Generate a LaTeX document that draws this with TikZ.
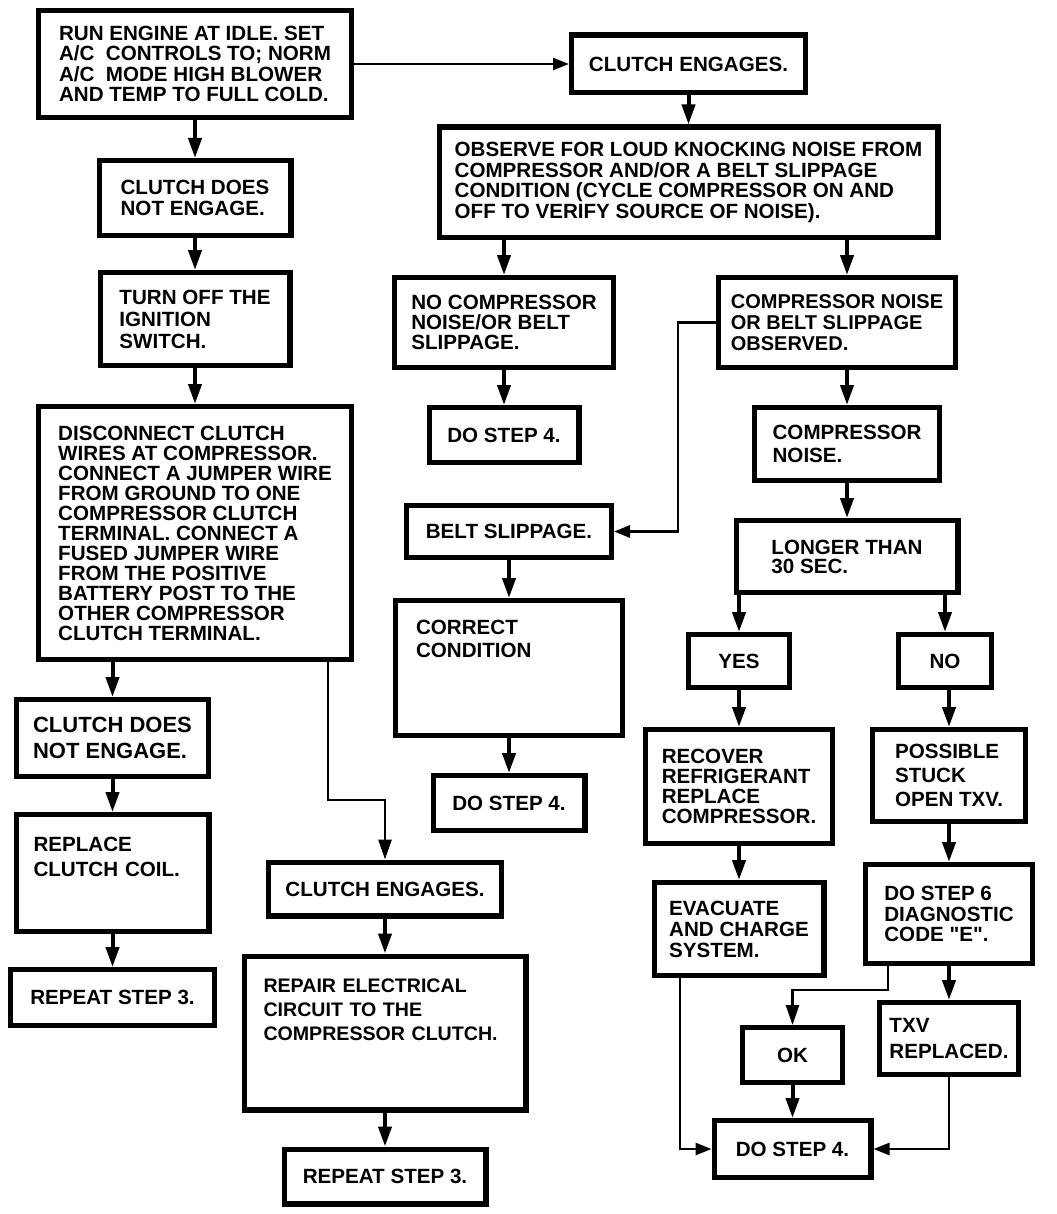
\documentclass[tikz,border=0pt]{standalone}
\usepackage{fontspec}
\setmainfont{Liberation Sans}
\usetikzlibrary{positioning,arrows.meta}
\tikzset{
	chart/.style={x=0.5pt,y=-0.5pt,>={Triangle[length=10pt,width=6.5pt]}},
	stage/.style={draw,line width=2.6pt,align=left,inner xsep=4pt,inner ysep=3pt,
		font=\bfseries\fontsize{10.3}{10.3}\selectfont},
	leading/.style={font=\bfseries\fontsize{10.3}{#1}\selectfont},
	feed/.style={->,line width=2pt},
	side/.style={-{Triangle[length=8pt,width=6pt]},line width=1.4pt}
}

\begin{document}
\begin{tikzpicture}[chart]
	\useasboundingbox (0,0) rectangle (1056,1214);

	% first column
	\node[stage,minimum width=156.4pt,minimum height=53.4pt] (start) at (195,64)
		{RUN ENGINE AT IDLE. SET\\A/C\ \ CONTROLS TO; NORM\\A/C\ \ MODE HIGH BLOWER\\AND TEMP TO FULL COLD.};
	\node[stage,minimum width=95.9pt,minimum height=37.4pt] (cdne) [below=19pt of start] {CLUTCH DOES\\NOT ENGAGE.};
	\node[stage,minimum width=94.9pt,minimum height=46.4pt,leading=11pt] (ignoff) [below=16pt of cdne] {TURN OFF THE\\IGNITION\\SWITCH.};
	\node[stage,minimum width=156.4pt,minimum height=126.4pt,leading=10pt] (jumper) [below=18pt of ignoff]
		{DISCONNECT CLUTCH\\WIRES AT COMPRESSOR.\\CONNECT A JUMPER WIRE\\FROM GROUND TO ONE\\COMPRESSOR CLUTCH\\TERMINAL. CONNECT A\\FUSED JUMPER WIRE\\FROM THE POSITIVE\\BATTERY POST TO THE\\OTHER COMPRESSOR\\CLUTCH TERMINAL.};
	\node[stage,minimum width=95.9pt,minimum height=38.4pt,font=\bfseries\fontsize{11}{13}\selectfont] (cdnetwo) at (112.5,738) {CLUTCH DOES\\NOT ENGAGE.};
	\node[stage,text width=79pt,inner xsep=8.7pt,minimum height=58.4pt,leading=12.5pt] (coil) [below=16.5pt of cdnetwo] {REPLACE\\CLUTCH COIL.\\[3.6pt]\mbox{}};
	\node[stage,minimum width=101.9pt,minimum height=27.9pt] (repeata) [below=16.5pt of coil] {REPEAT STEP 3.};
	\node[stage,minimum width=116.4pt,minimum height=26.9pt] (cetwo) at (385,889) {CLUTCH ENGAGES.};
	\node[stage,text width=121.5pt,inner xsep=9.7pt,minimum height=76.9pt,font=\bfseries\fontsize{9.8}{12}\selectfont] (repair) [below=17.5pt of cetwo]
		{REPAIR ELECTRICAL\\CIRCUIT TO THE\\COMPRESSOR CLUTCH.\\[11.5pt]\mbox{}};
	\node[stage,minimum width=100.9pt,minimum height=27.4pt] (repeatb) [below=17pt of repair] {REPEAT STEP 3.};

	% engaged side
	\node[stage,minimum width=116.9pt,minimum height=28.9pt] (ce) [right=107.5pt of start] {CLUTCH ENGAGES.};
	\node[stage,minimum width=249.4pt,minimum height=55.4pt] (observe) [below=14.5pt of ce]
		{OBSERVE FOR LOUD KNOCKING NOISE FROM\\COMPRESSOR AND/OR A BELT SLIPPAGE\\CONDITION (CYCLE COMPRESSOR ON AND\\OFF TO VERIFY SOURCE OF NOISE).};
	\node[stage,minimum width=109.4pt,minimum height=44.9pt,leading=10pt] (nonoise) at (504,322.5) {NO COMPRESSOR\\NOISE/OR BELT\\SLIPPAGE.};
	\node[stage,minimum width=74.9pt,minimum height=27.4pt] (stepa) [below=17.5pt of nonoise] {DO STEP 4.};
	\node[stage,minimum width=118.4pt,minimum height=44.9pt,font=\bfseries\fontsize{10}{10.5}\selectfont] (noisebelt) at (837,322.5) {COMPRESSOR NOISE\\OR BELT SLIPPAGE\\OBSERVED.};
	\node[stage,minimum width=102.4pt,minimum height=25.9pt] (belt) at (509,531.5) {BELT SLIPPAGE.};
	\node[stage,text width=93pt,inner xsep=10.2pt,minimum height=67.4pt,leading=11.5pt] (correct) [below=19pt of belt] {CORRECT\\CONDITION\\[17.6pt]\mbox{}};
	\node[stage,minimum width=75.9pt,minimum height=27.4pt] (stepb) [below=17.5pt of correct] {DO STEP 4.};
	\node[stage,minimum width=92.4pt,minimum height=36.4pt,leading=11.5pt] (knock) [below=17.5pt of noisebelt,xshift=5pt] {COMPRESSOR\\NOISE.};
	\node[stage,minimum width=110.9pt,minimum height=35.9pt,leading=9.5pt] (longer) [below=17.5pt of knock] {LONGER THAN\\30 SEC.};
	\node[stage,minimum width=50.4pt,minimum height=26.4pt] (yes) at (739,661) {YES};
	\node[stage,minimum width=46.4pt,minimum height=26.4pt] (no) at (945,661) {NO};
	\node[stage,minimum width=93.4pt,minimum height=56.9pt,leading=10pt] (recover) [below=18.5pt of yes] {RECOVER\\REFRIGERANT\\REPLACE\\COMPRESSOR.};
	\node[stage,minimum width=84.9pt,minimum height=46.4pt,leading=10.5pt] (evacuate) [below=17pt of recover] {EVACUATE\\AND CHARGE\\SYSTEM.};
	\node[stage,minimum width=76.4pt,minimum height=45.9pt,leading=12pt] (stuck) [below=18.5pt of no,xshift=2pt] {POSSIBLE\\STUCK\\OPEN TXV.};
	\node[stage,minimum width=83.4pt,minimum height=49.4pt,leading=10.3pt] (stepsix) [below=19pt of stuck] {DO STEP 6\\DIAGNOSTIC\\CODE \textquotedbl E\textquotedbl .};
	\node[stage,minimum width=69.4pt,minimum height=35.9pt,leading=13pt] (txv) [below=17pt of stepsix] {TXV\\REPLACED.};
	\node[stage,minimum width=49.9pt,minimum height=27.4pt] (ok) at (792.5,1055) {OK};
	\node[stage,minimum width=78.4pt,minimum height=28.4pt] (stepc) [below=16.5pt of ok] {DO STEP 4.};

	% connectors
	\path[side,line width=1.2pt] (start) edge (ce);
	\draw[feed] (start.south -| cdne.north) -- (cdne.north);
	\path[feed] (cdne) edge (ignoff);
	\path[feed] (ignoff) edge (jumper);
	\draw[feed] (jumper.south -| cdnetwo.north) -- (cdnetwo.north);
	\path[feed] (cdnetwo) edge (coil);
	\path[feed] (coil) edge (repeata);
	\draw[feed,line width=1.4pt] ([xshift=66.5pt]jumper.south) -- ++(0,-69pt) -| (cetwo);
	\path[feed] (cetwo) edge (repair);
	\path[feed] (repair) edge (repeatb);

	\path[feed] (ce) edge (observe);
	\draw[feed] (observe.south -| nonoise.north) -- (nonoise.north);
	\draw[feed] (observe.south -| knock.north) -- (noisebelt.north -| knock.north);
	\path[feed] (nonoise) edge (stepa);
	\draw[side] (noisebelt.west) -- ++(-19pt,0) |- (belt);
	\path[feed] (belt) edge (correct);
	\path[feed] (correct) edge (stepb);
	\draw[feed] (noisebelt.south -| knock.north) -- (knock.north);
	\path[feed] (knock) edge (longer);
	\draw[feed] (longer.south -| yes.north) -- (yes.north);
	\draw[feed] (longer.south -| no.north) -- (no.north);
	\path[feed] (yes) edge (recover);
	\path[feed] (recover) edge (evacuate);
	\draw[feed] (no.south -| stuck.north) -- (stuck.north);
	\path[feed] (stuck) edge (stepsix);
	\path[feed] (stepsix) edge (txv);
	\draw[side] ([xshift=-29.5pt]evacuate.south) |- (stepc);
	\draw[feed,line width=1.4pt] ([xshift=-30.5pt]stepsix.south) -- ++(0,-12pt) -| (ok);
	\path[feed] (ok) edge (stepc);
	\draw[side] (txv.south) |- (stepc);
\end{tikzpicture}
\end{document}
